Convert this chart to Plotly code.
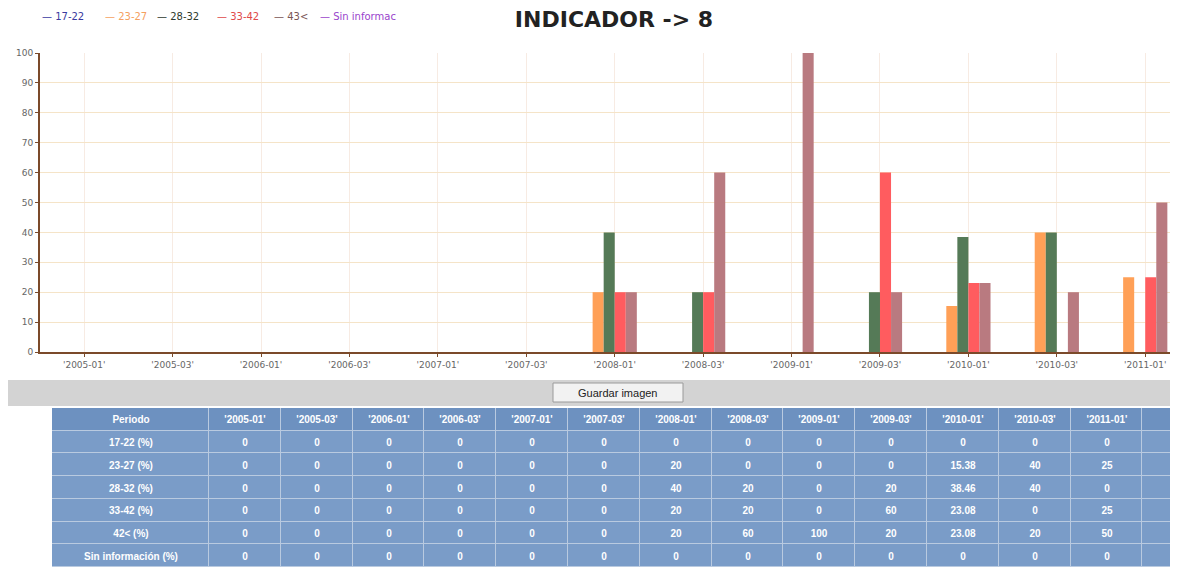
import plotly.graph_objects as go

# page body has an 8px margin, so the figure is drawn 8px right/down
OFF = 8
W, H = 1178 - 2 * OFF, 575 - 2 * OFF

periods = ["'2005-01'", "'2005-03'", "'2006-01'", "'2006-03'", "'2007-01'", "'2007-03'",
           "'2008-01'", "'2008-03'", "'2009-01'", "'2009-03'", "'2010-01'", "'2010-03'",
           "'2011-01'"]

series_names = ["17-22", "23-27", "28-32", "33-42", "43<", "Sin información"]
legend_labels = ["17-22", "23-27", "28-32", "33-42", "43<", "Sin informac"]
row_labels = ["17-22 (%)", "23-27 (%)", "28-32 (%)", "33-42 (%)", "42< (%)", "Sin información (%)"]

v_17_22 = [0, 0, 0, 0, 0, 0, 0, 0, 0, 0, 0, 0, 0]
v_23_27 = [0, 0, 0, 0, 0, 0, 20, 0, 0, 0, 15.38, 40, 25]
v_28_32 = [0, 0, 0, 0, 0, 0, 40, 20, 0, 20, 38.46, 40, 0]
v_33_42 = [0, 0, 0, 0, 0, 0, 20, 20, 0, 60, 23.08, 0, 25]
v_43 = [0, 0, 0, 0, 0, 0, 20, 60, 100, 20, 23.08, 20, 50]
v_sin = [0, 0, 0, 0, 0, 0, 0, 0, 0, 0, 0, 0, 0]
values = [v_17_22, v_23_27, v_28_32, v_33_42, v_43, v_sin]

bar_colors = ["#3a3aa0", "#ffa057", "#557a57", "#ff5c5f", "#b97a80", "#9944cc"]
legend_colors = ["#3a3aa0", "#f5a060", "#2e3a2e", "#e04848", "#7a5555", "#9944cc"]
legend_x = [40, 103, 155, 215, 272, 318]

# table column widths (px)
col_widths = [157] + [71.8] * len(periods) + [36]


def fx(x):
    return (x - OFF) / W


def fy(y):
    return 1 - (y - OFF) / H


fig = go.Figure()

for name, vals, col in zip(series_names, values, bar_colors):
    fig.add_trace(go.Bar(
        x=periods, y=vals, name=name, marker_color=col,
        marker_line_width=0, showlegend=False,
    ))

# table drawn as a heatmap grid so the row height can match
header = ["<b>Periodo</b>"] + [f"<b>{p}</b>" for p in periods] + [""]
text = [header]
z = [[1] * len(header)]
for lab, vals in zip(row_labels, values):
    text.append([f"<b>{lab}</b>"] + [f"<b>{v:g}</b>" for v in vals] + [""])
    z.append([0] * len(header))

edges = [0]
for w in col_widths:
    edges.append(edges[-1] + w)

fig.add_trace(go.Heatmap(
    z=z, x=edges, y=list(range(len(text))),
    text=text, texttemplate="%{text}",
    textfont=dict(color="white", size=10, family="Liberation Sans"),
    colorscale=[[0, "#7a9cc8"], [1, "#6d91c0"]], showscale=False,
    xgap=1, ygap=1, hoverinfo="skip",
    xaxis="x2", yaxis="y2",
))
fig.add_shape(type="rect", xref="paper", yref="paper",
              x0=fx(52), x1=1, y0=0, y1=fy(408),
              fillcolor="#b9cae0", line_width=0, layer="below")

# legend drawn as coloured dash + label
for lab, col, x in zip(legend_labels, legend_colors, legend_x):
    fig.add_annotation(
        x=fx(x), y=fy(17), xref="paper", yref="paper",
        text=f"— {lab}", showarrow=False, xanchor="left", yanchor="middle",
        font=dict(size=10, color=col, family="DejaVu Sans"),
    )

# grey toolbar with save button
fig.add_shape(type="rect", xref="paper", yref="paper",
              x0=0, x1=1, y0=fy(406), y1=fy(380),
              fillcolor="#d3d3d3", line_width=0, layer="below")
fig.add_shape(type="rect", xref="paper", yref="paper",
              x0=fx(553), x1=fx(683), y0=fy(402), y1=fy(383),
              fillcolor="#f2f2f2", line=dict(color="#9a9a9a", width=1))
fig.add_annotation(
    x=fx(618), y=fy(392.5), xref="paper", yref="paper",
    text="Guardar imagen", showarrow=False, xanchor="center", yanchor="middle",
    font=dict(size=11, color="#222", family="Liberation Sans"),
)

fig.update_layout(
    width=W, height=H,
    margin=dict(l=0, r=0, t=0, b=0),
    paper_bgcolor="white",
    plot_bgcolor="rgba(0,0,0,0)",
    barmode="group",
    bargap=0.25,
    bargroupgap=0,
    title=dict(
        text="<b>INDICADOR -> 8</b>", x=fx(614), xanchor="center",
        y=fy(19), yanchor="middle",
        font=dict(size=22, color="#222", family="DejaVu Sans"),
    ),
    xaxis=dict(
        domain=[fx(40), 1], range=[-0.5, 12.28],
        type="category", showline=True, linecolor="#7b4a2a", linewidth=2,
        showgrid=True, gridcolor="#f7ebe3", ticks="outside", ticklen=3,
        tickcolor="#7b4a2a", tickfont=dict(size=9, color="#666", family="DejaVu Sans"),
        automargin=False,
    ),
    yaxis=dict(
        domain=[fy(352), fy(53)], range=[0, 100], dtick=10,
        showline=True, linecolor="#7b4a2a", linewidth=2,
        showgrid=True, gridcolor="#f5e4c8", zeroline=False,
        ticks="outside", ticklen=3, tickcolor="#7b4a2a",
        tickfont=dict(size=9, color="#666", family="DejaVu Sans"),
        automargin=False,
    ),
    xaxis2=dict(
        domain=[fx(52), 1], range=[0, 1170 - 52], visible=False,
        anchor="y2", fixedrange=True,
    ),
    yaxis2=dict(
        domain=[0, fy(408)], range=[len(text) - 0.5, -0.5], visible=False,
        anchor="x2", fixedrange=True,
    ),
)

fig.write_html("out.html")
